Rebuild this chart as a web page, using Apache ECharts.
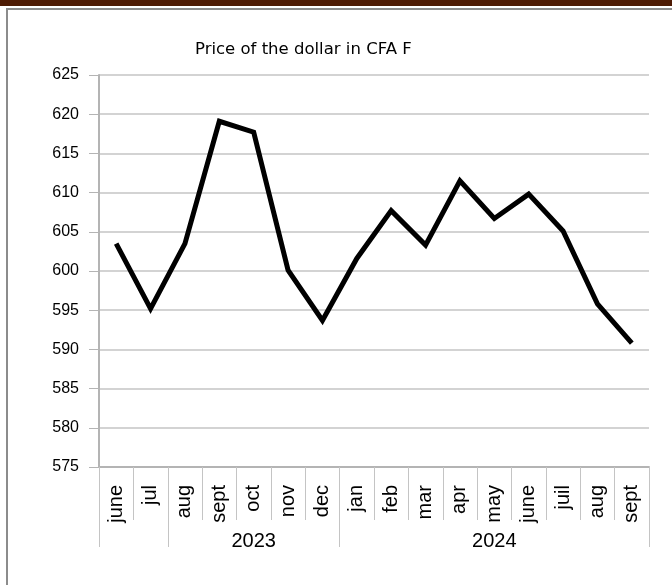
<!DOCTYPE html>
<html>
<head>
<meta charset="utf-8">
<script src="https://cdn.jsdelivr.net/npm/echarts@6/dist/echarts.min.js"></script>
<style>
  html, body { margin: 0; padding: 0; background: #fff; }
  #chart { width: 672px; height: 585px; }
</style>
</head>
<body>
<div id="chart"></div>
<script>
// values
const months = ['june', 'jul', 'aug', 'sept', 'oct', 'nov', 'dec',
  'jan', 'feb', 'mar', 'apr', 'may', 'june', 'juil', 'aug', 'sept']
const dollarPrice = [603.5, 595.2, 603.5, 619.1, 617.7, 600.1, 593.7,
  601.6, 607.7, 603.3, 611.5, 606.7, 609.8, 605.1, 595.8, 590.8]
const yearLabels = ['', '2023', '2024']
const yearSpans = [2, 5, 9]

// group boundaries and centres on a 0..n value scale
const bounds = [0]
yearSpans.forEach(n => bounds.push(bounds[bounds.length - 1] + n))
const centers = yearSpans.map((n, i) => bounds[i] + n / 2)

const font = '"Liberation Sans", Arial, sans-serif'
const gridGray = '#c4c4c4'

const chart = echarts.init(document.getElementById('chart'))

chart.setOption({
  animation: false,
  backgroundColor: '#fff',
  title: {
    text: 'Price of the dollar in CFA F',
    left: 190,
    top: 36,
    textStyle: {
      fontFamily: '"DejaVu Sans", sans-serif',
      fontSize: 16.5,
      fontWeight: 'normal',
      color: '#000'
    }
  },
  graphic: [
    { type: 'rect', shape: { x: 0, y: 0, width: 672, height: 6 }, style: { fill: '#4d1a03' } },
    { type: 'rect', shape: { x: 6, y: 8, width: 666, height: 2 }, style: { fill: '#8c8c8c' } },
    { type: 'rect', shape: { x: 6, y: 8, width: 2, height: 577 }, style: { fill: '#8c8c8c' } }
  ],
  grid: {
    left: 99,
    right: 23,
    top: 75,
    bottom: 118
  },
  xAxis: [
    {
      type: 'category',
      data: months,
      boundaryGap: true,
      axisLine: { lineStyle: { color: '#b4b4b4', width: 2 } },
      axisTick: { show: true, interval: 0, length: 53, lineStyle: { color: gridGray } },
      axisLabel: {
        interval: 0,
        rotate: 90,
        margin: 18,
        fontFamily: font,
        fontSize: 20,
        color: '#000'
      }
    },
    {
      type: 'value',
      position: 'bottom',
      min: 0,
      max: months.length,
      axisLine: { show: false },
      splitLine: { show: false },
      axisTick: {
        show: true,
        customValues: bounds,
        length: 80,
        lineStyle: { color: gridGray }
      },
      axisLabel: {
        customValues: centers,
        formatter: v => yearLabels[centers.indexOf(v)] || '',
        margin: 64,
        fontFamily: font,
        fontSize: 20,
        color: '#000'
      }
    }
  ],
  yAxis: {
    type: 'value',
    min: 575,
    max: 625,
    interval: 5,
    axisLine: { show: true, lineStyle: { color: '#b4b4b4', width: 2 } },
    axisTick: { show: true, length: 10, lineStyle: { color: '#b4b4b4' } },
    splitLine: { lineStyle: { color: gridGray, width: 1.5 } },
    axisLabel: {
      margin: 20,
      fontFamily: font,
      fontSize: 16,
      color: '#000'
    }
  },
  series: [
    {
      name: 'Price of the dollar in CFA F',
      type: 'line',
      xAxisIndex: 0,
      data: dollarPrice,
      symbol: 'none',
      lineStyle: { color: '#000', width: 5, join: 'miter' }
    }
  ]
})
</script>
</body>
</html>
